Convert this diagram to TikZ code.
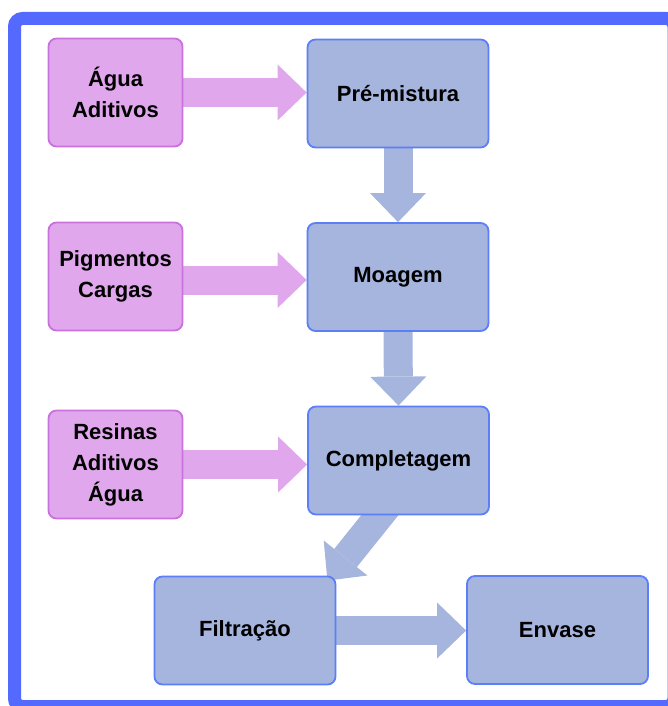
\documentclass[tikz,border=0pt]{standalone}
\usepackage{fontspec}
\setmainfont{Liberation Sans}
\usetikzlibrary{arrows.meta,calc,backgrounds}

\definecolor{frameblue}{RGB}{84,106,255}
\definecolor{stepfill}{RGB}{166,181,222}
\definecolor{stepline}{RGB}{92,126,246}
\definecolor{inputfill}{RGB}{225,167,237}
\definecolor{inputline}{RGB}{201,114,222}

\begin{document}
\begin{tikzpicture}[x=1pt,y=-1pt,
  box/.style={rounded corners=8pt, line width=1.8pt, align=center,
    font=\bfseries\fontsize{22}{31}\selectfont, inner sep=0pt},
  inbox/.style={box, fill=inputfill, draw=inputline,
    minimum width=134pt, minimum height=108pt},
  stepbox/.style={box, fill=stepfill, draw=stepline,
    minimum width=181pt, minimum height=108pt},
  flow/.style={line width=29pt,
    -{Triangle[length=29pt,width=56pt,line width=0pt]}},
  feed/.style={flow, draw=inputfill},
  pass/.style={flow, draw=stepfill},
  frame/.style={draw=frameblue, line width=13pt, rounded corners=8pt}
]
\useasboundingbox (0,0) rectangle (668,706);

% raw material inputs
\node[inbox] (agua) at (115.5,92.5) {Água\\Aditivos};
\node[inbox] (pig)  at (115.5,276.5) {Pigmentos\\Cargas};
\node[inbox] (res)  at (115.5,464.5) {Resinas\\Aditivos\\Água};

% process steps
\node[stepbox] (pre)  at (398,93.5)  {Pré-mistura};
\node[stepbox] (moa)  at (398,277)   {Moagem};
\node[stepbox] (comp) at (398.5,460.5) {Completagem};
\node[stepbox] (filt) at (245,630.5) {Filtração};
\node[stepbox] (env)  at (557.5,630) {Envase};

\begin{scope}[on background layer]
  % outer frame
  \draw[frame] (14.5,18.5) rectangle (674,706.5);

  % inputs feeding the steps
  \draw[feed] (agua.east) -- (agua.east -| pre.west);
  \draw[feed] ($(pig.east)+(0,3.5)$) -- ($(pig.east -| moa.west)+(0,3.5)$);
  \draw[feed] (res.east) -- (res.east -| comp.west);

  % flow between steps
  \draw[pass] (pre.south) -- (moa.north);
  \draw[pass] (moa.south) -- (comp.north);
  \draw[pass] ($(comp.south)+(-6,-16)$) -- ($(filt.north east)+(-9,5)$);
  \draw[pass] (filt.east) -- (filt.east -| env.west);
\end{scope}
\end{tikzpicture}
\end{document}
